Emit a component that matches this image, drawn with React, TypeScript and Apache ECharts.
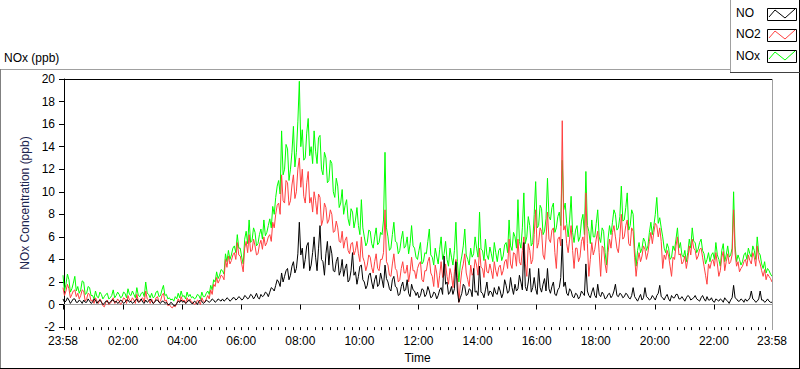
import React, { useEffect, useRef } from "react";
import * as echarts from "echarts";

// Sampling grid: first sample at 23:58 (minute -2 of the day), one sample every 3 minutes
const START_MIN = -2;
const STEP_MIN = 3;

// one row per hour (20 samples), starting 23:58
const noxValues = [
  2.6, 1.2, 1.8, 2.7, 2.2, 1.1, 1.4, 1.9, 2.5, 1.2, 1.6, 1.0, 1.3, 2.1, 2.0, 0.9, 1.0, 1.6, 1.5, 0.8,
  0.8, 0.5, 1.2, 0.7, 0.6, 1.1, 0.9, 0.5, 0.7, 0.9, 1.0, 0.5, 0.6, 0.8, 1.3, 0.6, 0.8, 1.1, 0.9, 0.6,
  0.7, 1.1, 1.0, 0.6, 1.4, 0.9, 0.8, 1.2, 0.9, 0.6, 1.5, 0.8, 0.7, 1.0, 1.1, 0.7, 2.0, 1.0, 0.9, 0.6,
  1.0, 0.6, 0.7, 1.1, 1.2, 0.7, 0.8, 1.3, 1.7, 0.8, 0.9, 0.5, 0.6, 0.4, 0.5, 0.3, 0.7, 0.5, 1.0, 0.6,
  1.2, 0.7, 0.8, 0.5, 1.1, 0.7, 0.9, 0.6, 0.7, 0.5, 0.6, 0.9, 0.8, 0.5, 1.1, 0.7, 0.7, 1.0, 1.2, 0.9,
  1.7, 1.3, 2.2, 2.0, 2.9, 2.3, 2.6, 3.1, 3.0, 2.7, 4.5, 3.8, 4.8, 4.0, 4.4, 5.0, 5.2, 4.6, 6.2, 5.0,
  5.0, 4.2, 3.6, 5.8, 6.5, 5.4, 7.5, 5.5, 5.7, 6.8, 6.4, 5.2, 5.4, 6.2, 6.7, 5.8, 7.5, 6.1, 6.4, 7.0,
  7.6, 6.8, 8.7, 8.0, 9.5, 10.5, 11.0, 9.8, 15.4, 11.5, 12.0, 14.2, 13.8, 11.0, 12.0, 13.5, 15.8, 12.2, 13.5, 16.2,
  19.8, 14.0, 15.5, 12.8, 13.0, 15.2, 16.5, 13.2, 14.0, 12.5, 15.4, 13.6, 12.5, 14.8, 15.0, 12.0, 11.5, 13.5, 13.0, 10.8,
  11.0, 12.8, 12.5, 10.0, 9.5, 11.2, 10.5, 8.6, 9.0, 10.2, 8.0, 8.8, 9.3, 7.6, 7.0, 8.5, 8.2, 6.8, 7.5, 8.6,
  7.0, 6.2, 9.3, 6.8, 6.0, 5.2, 5.5, 6.6, 6.5, 5.4, 5.0, 6.0, 6.8, 5.3, 5.5, 6.4, 6.2, 7.5, 13.5, 6.8,
  6.0, 4.8, 5.0, 6.2, 7.3, 5.6, 5.5, 4.5, 4.8, 5.8, 6.5, 5.0, 5.2, 6.0, 4.5, 5.4, 7.0, 5.2, 5.0, 4.2,
  4.0, 4.8, 5.5, 3.6, 3.8, 4.6, 4.5, 5.6, 6.7, 4.4, 4.2, 3.5, 5.0, 4.3, 3.6, 4.9, 6.0, 4.0, 4.5, 5.6,
  4.0, 3.4, 5.0, 4.2, 3.5, 4.8, 7.3, 3.8, 2.0, 3.6, 4.3, 5.2, 6.7, 4.4, 4.0, 3.5, 5.0, 4.2, 4.5, 6.0,
  5.0, 4.2, 8.2, 4.9, 4.8, 3.9, 5.8, 4.4, 4.0, 5.1, 4.5, 3.8, 5.5, 4.6, 3.8, 4.8, 5.0, 3.9, 4.3, 5.3,
  5.5, 4.6, 7.5, 5.2, 4.8, 6.4, 6.0, 5.0, 9.3, 5.6, 5.0, 6.8, 9.9, 5.4, 6.0, 7.8, 7.0, 5.2, 5.5, 8.0,
  10.9, 6.8, 7.0, 8.8, 8.5, 6.2, 6.5, 7.6, 11.2, 7.8, 7.5, 8.6, 9.0, 6.4, 6.8, 7.8, 8.2, 7.0, 12.8, 8.4,
  9.0, 7.2, 6.0, 7.5, 9.6, 6.4, 5.5, 6.6, 7.0, 5.6, 6.0, 7.4, 8.0, 6.2, 11.8, 7.0, 6.5, 5.4, 7.5, 6.0,
  6.0, 7.2, 8.4, 6.0, 5.5, 6.8, 6.5, 4.6, 3.5, 5.8, 7.0, 6.2, 7.3, 8.4, 8.0, 6.6, 6.8, 7.8, 10.5, 7.4,
  7.5, 8.6, 9.9, 6.6, 7.0, 8.4, 8.0, 5.0, 3.4, 4.8, 5.5, 4.6, 5.0, 5.9, 5.6, 4.8, 5.2, 6.4, 7.3, 6.2,
  7.0, 8.0, 9.5, 7.2, 7.7, 6.8, 6.0, 5.0, 4.6, 5.4, 5.0, 4.0, 4.2, 5.2, 4.8, 5.8, 6.8, 5.0, 5.5, 4.4,
  4.2, 4.8, 3.8, 4.6, 5.8, 5.0, 6.8, 5.6, 5.5, 4.6, 4.9, 5.5, 5.8, 4.8, 4.5, 3.6, 4.0, 4.6, 3.8, 4.4,
  4.6, 4.0, 5.5, 4.4, 4.0, 3.4, 4.8, 5.4, 3.8, 4.4, 5.2, 4.2, 4.4, 5.0, 10.0, 5.2, 3.8, 4.4, 4.0, 3.5,
  3.8, 4.4, 4.6, 4.0, 5.0, 4.5, 4.2, 5.2, 4.8, 4.0, 6.0, 4.6, 4.4, 3.6, 3.2, 3.8, 2.8, 3.2, 3.0, 2.7,
  2.5,
];

const no2Values = [
  1.5, 0.8, 1.2, 1.8, 1.4, 0.6, 0.9, 1.2, 1.3, 0.7, 1.0, 0.5, 0.8, 1.3, 1.2, 0.3, 0.5, 1.0, 0.9, 0.3,
  0.4, 0.1, 0.6, 0.3, 0.1, 0.5, 0.3, -0.1, -0.2, 0.2, 0.4, 0.0, 0.1, 0.3, 0.6, 0.1, 0.2, 0.5, 0.3, 0.0,
  0.2, 0.6, 0.5, 0.1, 0.8, 0.4, 0.3, 0.6, 0.4, 0.1, 0.9, 0.3, 0.2, 0.5, 0.6, 0.2, 1.2, 0.5, 0.4, 0.1,
  0.5, 0.1, 0.2, 0.6, 0.7, 0.2, 0.3, 0.8, 1.0, 0.3, 0.4, -0.1, 0.0, -0.2, -0.3, -0.1, -0.2, 0.1, 0.5, 0.2,
  0.7, 0.3, 0.4, 0.1, 0.6, 0.3, 0.5, 0.2, 0.2, 0.0, 0.1, 0.4, 0.3, 0.0, 0.6, 0.3, 0.2, 0.5, 0.8, 0.5,
  1.3, 0.9, 1.8, 1.6, 2.4, 1.9, 2.2, 2.6, 2.5, 2.2, 4.0, 3.3, 4.3, 3.6, 3.9, 4.4, 4.6, 4.0, 5.5, 4.4,
  4.3, 3.6, 2.9, 5.0, 5.6, 4.6, 6.2, 4.7, 4.8, 5.8, 5.2, 4.4, 4.5, 5.3, 5.7, 4.9, 6.0, 5.2, 5.5, 6.0,
  6.2, 5.6, 7.3, 6.8, 8.0, 8.8, 9.0, 8.0, 11.5, 9.2, 9.0, 11.0, 10.8, 8.8, 9.2, 10.6, 11.5, 9.4, 10.0, 12.0,
  13.0, 10.4, 12.0, 9.6, 9.0, 10.8, 11.8, 9.0, 9.5, 8.2, 10.0, 9.2, 8.0, 9.8, 9.5, 7.0, 7.5, 9.0, 8.6, 7.2,
  7.5, 8.4, 8.0, 6.4, 6.5, 7.4, 6.8, 5.6, 5.5, 6.5, 5.0, 5.7, 6.0, 4.8, 4.5, 5.4, 5.5, 4.4, 4.8, 5.6,
  4.5, 3.8, 6.0, 4.2, 3.8, 3.0, 3.5, 4.4, 4.2, 3.3, 2.8, 3.8, 4.5, 3.2, 3.0, 4.0, 4.0, 4.6, 8.4, 3.8,
  3.5, 2.6, 2.5, 3.6, 4.5, 3.2, 3.0, 2.0, 2.2, 3.2, 3.8, 2.8, 2.8, 3.5, 2.0, 2.9, 4.2, 3.0, 3.0, 2.3,
  3.2, 3.6, 3.8, 2.2, 2.0, 3.0, 3.0, 3.8, 4.2, 2.8, 2.5, 1.6, 3.5, 2.8, 1.5, 2.6, 3.8, 2.4, 2.6, 3.6,
  2.5, 1.8, 3.2, 2.6, 1.5, 2.9, 4.0, 2.4, 0.2, 1.8, 3.0, 3.6, 4.5, 2.8, 2.2, 1.6, 3.5, 2.6, 2.8, 4.0,
  3.5, 2.6, 5.0, 3.3, 3.2, 2.4, 4.0, 2.9, 2.8, 3.6, 3.0, 2.3, 3.8, 3.0, 2.5, 3.3, 3.5, 2.6, 3.0, 3.8,
  4.0, 3.2, 5.8, 3.6, 3.2, 4.6, 4.5, 3.4, 5.8, 3.8, 3.5, 4.8, 6.0, 3.6, 2.5, 5.4, 4.8, 3.6, 4.0, 6.2,
  8.4, 5.0, 5.5, 6.8, 6.5, 4.4, 4.0, 5.8, 8.2, 5.8, 5.5, 6.6, 6.8, 4.6, 3.2, 5.8, 6.0, 5.2, 16.3, 6.6,
  7.0, 5.4, 4.6, 5.8, 7.0, 4.8, 3.2, 5.0, 5.0, 3.8, 4.2, 5.6, 6.0, 4.8, 9.9, 5.4, 2.5, 4.0, 5.5, 4.4,
  4.9, 5.8, 6.5, 4.6, 2.5, 5.2, 5.0, 3.6, 2.8, 4.6, 5.8, 5.0, 6.4, 7.0, 6.0, 5.0, 4.6, 6.0, 8.0, 5.8,
  6.0, 7.0, 7.5, 5.4, 5.2, 6.8, 6.5, 4.2, 2.5, 3.8, 4.6, 3.8, 4.3, 5.2, 4.9, 4.0, 4.6, 5.6, 6.4, 5.4,
  6.4, 7.2, 7.0, 6.0, 6.8, 5.6, 3.2, 4.4, 4.0, 4.8, 4.3, 3.4, 2.5, 4.2, 4.0, 5.2, 6.0, 4.4, 4.5, 3.6,
  3.8, 4.3, 3.2, 4.0, 5.2, 4.4, 5.8, 5.0, 4.8, 4.0, 4.3, 4.9, 5.0, 4.2, 3.4, 2.6, 1.8, 3.6, 3.2, 3.8,
  4.0, 3.4, 4.6, 3.6, 2.5, 3.0, 4.2, 4.7, 3.0, 3.8, 4.5, 3.6, 3.8, 4.4, 8.4, 4.6, 3.4, 3.8, 2.9, 3.2,
  3.4, 3.8, 4.0, 3.4, 4.4, 3.9, 3.6, 4.6, 4.2, 3.4, 5.2, 4.0, 3.6, 3.0, 2.5, 3.1, 2.2, 2.7, 2.5, 2.3,
  2.0,
];

const noValues = [
  0.5, 0.2, 0.3, 0.6, 0.4, 0.1, 0.3, 0.5, 0.5, 0.2, 0.2, 0.4, 0.3, 0.1, 0.4, 0.2, 0.2, 0.5, 0.3, 0.1,
  0.2, 0.5, 0.4, 0.1, 0.3, 0.4, 0.2, 0.0, 0.1, 0.3, 0.3, 0.1, 0.2, 0.4, 0.4, 0.2, 0.3, 0.1, 0.2, 0.4,
  0.3, 0.1, 0.2, 0.4, 0.4, 0.2, 0.3, 0.1, 0.2, 0.4, 0.5, 0.2, 0.3, 0.5, 0.2, 0.1, 0.4, 0.2, 0.3, 0.5,
  0.3, 0.1, 0.2, 0.4, 0.4, 0.2, 0.1, 0.3, 0.3, 0.1, 0.2, 0.0, 0.0, 0.2, 0.1, -0.1, -0.1, 0.1, 0.3, 0.2,
  0.4, 0.2, 0.3, 0.1, 0.2, 0.4, 0.3, 0.1, 0.1, 0.3, 0.2, 0.0, 0.3, 0.4, 0.3, 0.1, 0.2, 0.4, 0.3, 0.2,
  0.3, 0.5, 0.4, 0.2, 0.3, 0.5, 0.4, 0.3, 0.5, 0.3, 0.4, 0.6, 0.5, 0.3, 0.4, 0.6, 0.6, 0.4, 0.5, 0.7,
  0.6, 0.4, 0.5, 0.8, 0.7, 0.5, 0.6, 0.9, 0.8, 0.5, 0.7, 1.0, 0.6, 0.5, 0.9, 0.7, 0.8, 1.1, 1.0, 0.7,
  1.1, 1.5, 1.4, 1.2, 1.7, 2.2, 2.0, 1.6, 2.8, 2.0, 2.5, 3.0, 3.2, 2.2, 2.6, 3.4, 3.8, 2.8, 3.2, 4.5,
  7.3, 4.4, 5.0, 3.2, 4.0, 5.2, 5.5, 3.0, 3.5, 4.6, 6.0, 4.2, 3.0, 5.0, 7.0, 4.0, 3.8, 2.6, 4.5, 5.6,
  3.5, 5.2, 4.5, 3.0, 2.9, 3.8, 4.2, 2.6, 3.0, 4.0, 2.5, 3.2, 3.6, 2.0, 2.2, 3.0, 4.6, 2.6, 2.9, 1.8,
  2.5, 3.4, 3.5, 2.2, 2.0, 1.4, 1.7, 2.6, 2.8, 2.0, 1.4, 2.2, 2.6, 1.6, 1.8, 2.8, 2.2, 1.5, 3.5, 2.3,
  2.0, 1.4, 1.2, 2.2, 2.5, 1.6, 1.5, 0.8, 0.9, 1.6, 2.0, 1.2, 1.3, 2.2, 1.0, 0.7, 1.8, 1.3, 1.2, 0.8,
  1.1, 0.6, 0.8, 1.4, 1.3, 0.7, 0.9, 1.6, 1.2, 0.6, 0.7, 1.1, 1.0, 0.5, 0.8, 1.3, 1.5, 0.9, 4.3, 1.8,
  2.0, 0.9, 1.1, 1.6, 0.9, 1.4, 3.8, 1.2, 0.2, 0.6, 1.0, 1.8, 1.6, 0.8, 0.9, 1.4, 1.3, 0.7, 3.2, 1.1,
  1.2, 0.8, 3.4, 1.1, 1.0, 0.6, 1.3, 2.0, 0.8, 1.2, 1.1, 0.7, 1.5, 1.0, 0.9, 1.6, 1.2, 0.6, 1.0, 2.2,
  1.7, 1.0, 1.2, 2.4, 1.5, 0.9, 1.8, 1.2, 1.4, 2.6, 2.0, 1.3, 5.5, 1.6, 1.2, 2.0, 3.2, 1.1, 1.5, 2.4,
  1.4, 0.9, 3.2, 1.5, 1.1, 1.8, 2.3, 1.2, 3.2, 1.4, 1.0, 1.6, 2.0, 0.9, 0.8, 1.3, 1.5, 2.4, 5.8, 1.6,
  2.0, 1.0, 0.8, 1.4, 1.2, 0.7, 0.6, 1.0, 0.9, 0.5, 0.7, 1.2, 1.0, 0.8, 3.6, 1.2, 0.8, 0.6, 1.1, 1.5,
  0.8, 0.6, 1.8, 0.9, 0.7, 1.1, 0.9, 0.5, 0.6, 0.9, 1.0, 0.6, 0.8, 1.2, 1.8, 0.8, 0.7, 1.0, 0.9, 0.6,
  0.7, 1.0, 0.9, 0.6, 0.5, 0.8, 1.5, 0.7, 0.5, 0.3, 0.6, 0.9, 0.4, 0.6, 1.5, 0.7, 0.6, 0.4, 0.5, 0.8,
  0.6, 0.4, 0.8, 1.0, 1.7, 0.7, 0.6, 0.4, 0.7, 0.9, 0.5, 0.3, 0.8, 0.6, 0.6, 0.9, 0.9, 0.5, 0.5, 0.7,
  0.5, 0.3, 0.6, 0.8, 0.7, 0.4, 0.5, 0.6, 0.8, 0.5, 0.4, 0.3, 0.6, 0.8, 0.5, 0.3, 0.7, 0.4, 0.4, 0.6,
  0.3, 0.2, 0.5, 0.4, 0.3, 0.5, 0.4, 0.2, 0.6, 0.4, 0.3, 0.1, 0.4, 0.6, 1.7, 0.6, 0.5, 0.3, 0.3, 0.5,
  0.4, 0.2, 0.5, 0.3, 0.4, 0.6, 1.2, 0.5, 0.4, 0.2, 0.3, 0.5, 1.2, 0.4, 0.4, 0.2, 0.3, 0.5, 0.3, 0.2,
  0.2,
];

const seriesNames = ["NO", "NO2", "NOx"];
const seriesColors = ["#000000", "#ff4040", "#00ff00"];

const xMajorTicks = [-2, 120, 240, 360, 480, 600, 720, 840, 960, 1080, 1200, 1320, 1438];
const X_MIN = -2;
const X_MAX = 1438;
const Y_MIN = -2;
const Y_MAX = 20;
const Y_STEP = 2;

const FONT = "'Liberation Sans', Arial, sans-serif";

function fmtTime(v: number): string {
  const m = ((Math.round(v) % 1440) + 1440) % 1440;
  const hh = Math.floor(m / 60);
  const mm = m % 60;
  return String(hh).padStart(2, "0") + ":" + String(mm).padStart(2, "0");
}

function toPairs(values: number[]) {
  return values.map((v, i) => [START_MIN + STEP_MIN * i, v]);
}

export default function App() {
  const ref = useRef<HTMLDivElement>(null);

  useEffect(() => {
    document.body.style.margin = "0";
    if (!ref.current) return;
    const chart = echarts.init(ref.current, undefined, { renderer: "svg" });

    const minorTicks: number[] = [];
    for (let m = 0; m < 1440; m += 15) minorTicks.push(m);

    const seriesValues = [noValues, no2Values, noxValues];
    // draw order: NOx (green) first, NO2 (red), NO (black) on top
    const order = [2, 1, 0];
    const series = order.map((k) => ({
      name: seriesNames[k],
      type: "line" as const,
      xAxisIndex: 0,
      yAxisIndex: 0,
      data: toPairs(seriesValues[k]),
      showSymbol: false,
      symbol: "none",
      lineStyle: { color: seriesColors[k], width: 1 },
      itemStyle: { color: seriesColors[k] },
      z: 2,
    }));

    const legendY = [8, 29, 50];
    const legendTextY = [14, 35, 57];
    const legendGraphics: any[] = [];
    seriesNames.forEach((name, k) => {
      legendGraphics.push({
        type: "text",
        left: 736,
        top: legendTextY[k] - 7,
        style: { text: name, fill: "#000", font: `12px ${FONT}` },
      });
      const by = legendY[k];
      legendGraphics.push({
        type: "rect",
        shape: { x: 767.5, y: by + 0.5, width: 29, height: 12 },
        style: { fill: "#fff", stroke: "#000", lineWidth: 1 },
      });
      legendGraphics.push({
        type: "polyline",
        shape: {
          points: [
            [769, by + 9],
            [775, by + 2],
            [785, by + 10],
            [795, by + 1],
          ],
        },
        style: { stroke: seriesColors[k], lineWidth: 1, fill: "none" },
      });
    });

    const option: any = {
      animation: false,
      backgroundColor: "#ffffff",
      textStyle: { fontFamily: FONT },
      grid: { left: 63, right: 28, top: 79, bottom: 39, containLabel: false },
      xAxis: [
        {
          type: "value",
          min: X_MIN,
          max: X_MAX,
          position: "bottom",
          name: "Time",
          nameLocation: "middle",
          nameGap: 23,
          nameTextStyle: { color: "#000", fontSize: 12, fontFamily: FONT },
          axisLine: { show: true, lineStyle: { color: "#a0a0a0", width: 1 } },
          axisTick: {
            show: true,
            length: 5,
            lineStyle: { color: "#000" },
            customValues: xMajorTicks,
          },
          axisLabel: {
            show: true,
            color: "#000",
            fontSize: 12,
            fontFamily: FONT,
            margin: 8,
            customValues: xMajorTicks,
            formatter: (v: number) => fmtTime(v),
          },
          splitLine: { show: false },
        },
        {
          type: "value",
          min: X_MIN,
          max: X_MAX,
          position: "bottom",
          axisLine: { show: false },
          axisTick: {
            show: true,
            length: 3,
            lineStyle: { color: "#000" },
            customValues: minorTicks,
          },
          axisLabel: { show: false },
          splitLine: { show: false },
        },
      ],
      yAxis: {
        type: "value",
        min: Y_MIN,
        max: Y_MAX,
        interval: Y_STEP,
        name: "NOx Concentration (ppb)",
        nameLocation: "middle",
        nameGap: 29,
        nameRotate: 90,
        nameTextStyle: { color: "#1c2550", fontSize: 12, fontFamily: FONT },
        axisLine: { show: true, lineStyle: { color: "#000", width: 1 } },
        axisTick: { show: true, length: 5, lineStyle: { color: "#000" } },
        axisLabel: { color: "#000", fontSize: 12, fontFamily: FONT, margin: 8 },
        splitLine: { show: false },
      },
      series,
      graphic: [
        {
          type: "text",
          left: 4,
          top: 52,
          style: { text: "NOx (ppb)", fill: "#000", font: `12px ${FONT}` },
        },
        { type: "line", shape: { x1: 0, y1: 69.5, x2: 730, y2: 69.5 }, style: { stroke: "#a0a0a0", lineWidth: 1 } },
        { type: "line", shape: { x1: 0.5, y1: 69, x2: 0.5, y2: 369 }, style: { stroke: "#808080", lineWidth: 1 } },
        { type: "line", shape: { x1: 0, y1: 368.5, x2: 800, y2: 368.5 }, style: { stroke: "#000", lineWidth: 1 } },
        { type: "line", shape: { x1: 799.5, y1: 0, x2: 799.5, y2: 369 }, style: { stroke: "#000", lineWidth: 1 } },
        { type: "line", shape: { x1: 730.5, y1: 0, x2: 730.5, y2: 73 }, style: { stroke: "#a0a0a0", lineWidth: 1 } },
        { type: "line", shape: { x1: 730, y1: 72.5, x2: 800, y2: 72.5 }, style: { stroke: "#404040", lineWidth: 1 } },
        { type: "line", shape: { x1: 63, y1: 79.5, x2: 772, y2: 79.5 }, style: { stroke: "#000", lineWidth: 1 }, z: 10 },
        { type: "line", shape: { x1: 772.5, y1: 79, x2: 772.5, y2: 330 }, style: { stroke: "#a0a0a0", lineWidth: 1 }, z: 10 },
        ...legendGraphics,
      ],
    };

    chart.setOption(option);
    return () => chart.dispose();
  }, []);

  return <div ref={ref} style={{ width: 800, height: 369 }} />;
}
